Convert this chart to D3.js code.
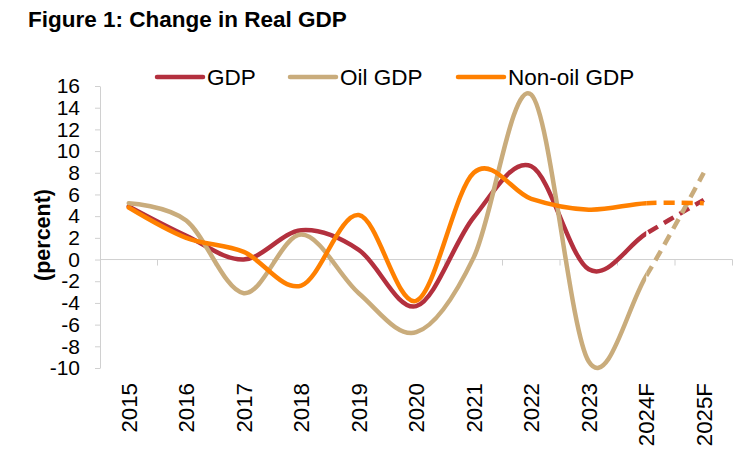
<!DOCTYPE html>
<html>
<head>
<meta charset="utf-8">
<script src="https://cdn.jsdelivr.net/npm/d3@7"></script>
<style>
  body { margin: 0; background: #fff; }
  svg { display: block; font-family: "Liberation Sans", Arial, sans-serif; }
</style>
</head>
<body>
<svg width="743" height="463"></svg>
<script>
const years = ["2015", "2016", "2017", "2018", "2019", "2020", "2021", "2022", "2023", "2024F", "2025F"];
const gdp = [4.9, 2.2, 0.0, 2.7, 0.9, -4.3, 3.9, 8.6, -0.9, 2.4, 5.5];
const oilGdp = [5.2, 3.6, -3.1, 2.3, -3.1, -6.7, 0.2, 15.2, -9.4, -1.5, 8.0];
const nonOilGdp = [4.8, 2.0, 0.7, -2.4, 4.1, -3.8, 8.0, 5.6, 4.6, 5.2, 5.2];
const yTicks = d3.range(-10, 17, 2);

const series = [
  { name: "GDP", values: gdp, color: "#b3303e" },
  { name: "Oil GDP", values: oilGdp, color: "#c9ac7c" },
  { name: "Non-oil GDP", values: nonOilGdp, color: "#ff8000" }
];

const svg = d3.select("svg");
const plotLeft = 100, plotRight = 732.5, plotTop = 86, plotBottom = 368;
const axisColor = "#d0d0d0";

const x = d3.scaleBand().domain(years).range([plotLeft, plotRight]);
const y = d3.scaleLinear().domain([-10, 16]).range([plotBottom, plotTop]);
const cx = d => x(d) + x.bandwidth() / 2;

// title
svg.append("text")
  .attr("x", 28).attr("y", 27)
  .attr("font-size", 22.5).attr("font-weight", "bold")
  .text("Figure 1: Change in Real GDP");

// y axis
const yAxis = svg.append("g")
  .attr("transform", `translate(${plotLeft},0)`)
  .call(d3.axisLeft(y).tickValues(yTicks).tickFormat(d => String(d))
    .tickSize(5).tickSizeOuter(0).tickPadding(15));
yAxis.select(".domain").attr("stroke", axisColor);
yAxis.selectAll(".tick line").attr("stroke", axisColor);
yAxis.selectAll("text").attr("font-size", 21).attr("fill", "#000")
  .attr("font-family", "Liberation Sans, Arial, sans-serif");

svg.append("text")
  .attr("transform", "translate(42,235) rotate(-90)")
  .attr("text-anchor", "middle").attr("dy", "0.35em")
  .attr("font-size", 21.5).attr("font-weight", "bold")
  .text("(percent)");

// zero line with category ticks
svg.append("line")
  .attr("x1", plotLeft).attr("x2", plotRight)
  .attr("y1", y(0)).attr("y2", y(0))
  .attr("stroke", axisColor);
svg.append("g").selectAll("line")
  .data(years)
  .join("line")
  .attr("x1", d => x(d) + x.bandwidth()).attr("x2", d => x(d) + x.bandwidth())
  .attr("y1", y(0)).attr("y2", y(0) + 6)
  .attr("stroke", axisColor);

// x labels
const xAxis = svg.append("g")
  .attr("transform", "translate(0,383)")
  .call(d3.axisBottom(x).tickSize(0));
xAxis.select(".domain").remove();
xAxis.selectAll("text")
  .attr("font-size", 22.3).attr("fill", "#000")
  .attr("font-family", "Liberation Sans, Arial, sans-serif")
  .attr("text-anchor", "end")
  .attr("transform", "rotate(-90)")
  .attr("x", 0).attr("y", 0)
  .attr("dx", 0).attr("dy", "0.35em");

// lines (smoothed), last segment dashed for the forecast
const line = d3.line()
  .x((d, i) => cx(years[i]))
  .y(d => y(d))
  .curve(d3.curveCardinal.tension(0));

const splitX = cx(years[years.length - 2]);
const defs = svg.append("defs");
defs.append("clipPath").attr("id", "solidClip")
  .append("rect").attr("x", 0).attr("y", 0).attr("width", splitX).attr("height", 463);
defs.append("clipPath").attr("id", "dashClip")
  .append("rect").attr("x", splitX).attr("y", 0).attr("width", 743 - splitX).attr("height", 463);

const plot = svg.append("g");
series.forEach(s => {
  plot.append("path")
    .attr("d", line(s.values))
    .attr("fill", "none").attr("stroke", s.color)
    .attr("stroke-width", 4.5).attr("stroke-linecap", "round")
    .attr("clip-path", "url(#solidClip)");
  plot.append("path")
    .attr("d", line(s.values))
    .attr("fill", "none").attr("stroke", s.color)
    .attr("stroke-width", 4.5)
    .attr("stroke-dasharray", "11,7")
    .attr("clip-path", "url(#dashClip)");
});

// legend
const legendPos = [157, 290, 458];
const legend = svg.append("g").selectAll("g")
  .data(series)
  .join("g")
  .attr("transform", (d, i) => `translate(${legendPos[i]},77)`);
legend.append("line")
  .attr("x1", 0).attr("x2", 46)
  .attr("stroke", d => d.color).attr("stroke-width", 4.5).attr("stroke-linecap", "round");
legend.append("text")
  .attr("x", 50).attr("dy", "0.35em")
  .attr("font-size", 22.5)
  .text(d => d.name);
</script>
</body>
</html>
